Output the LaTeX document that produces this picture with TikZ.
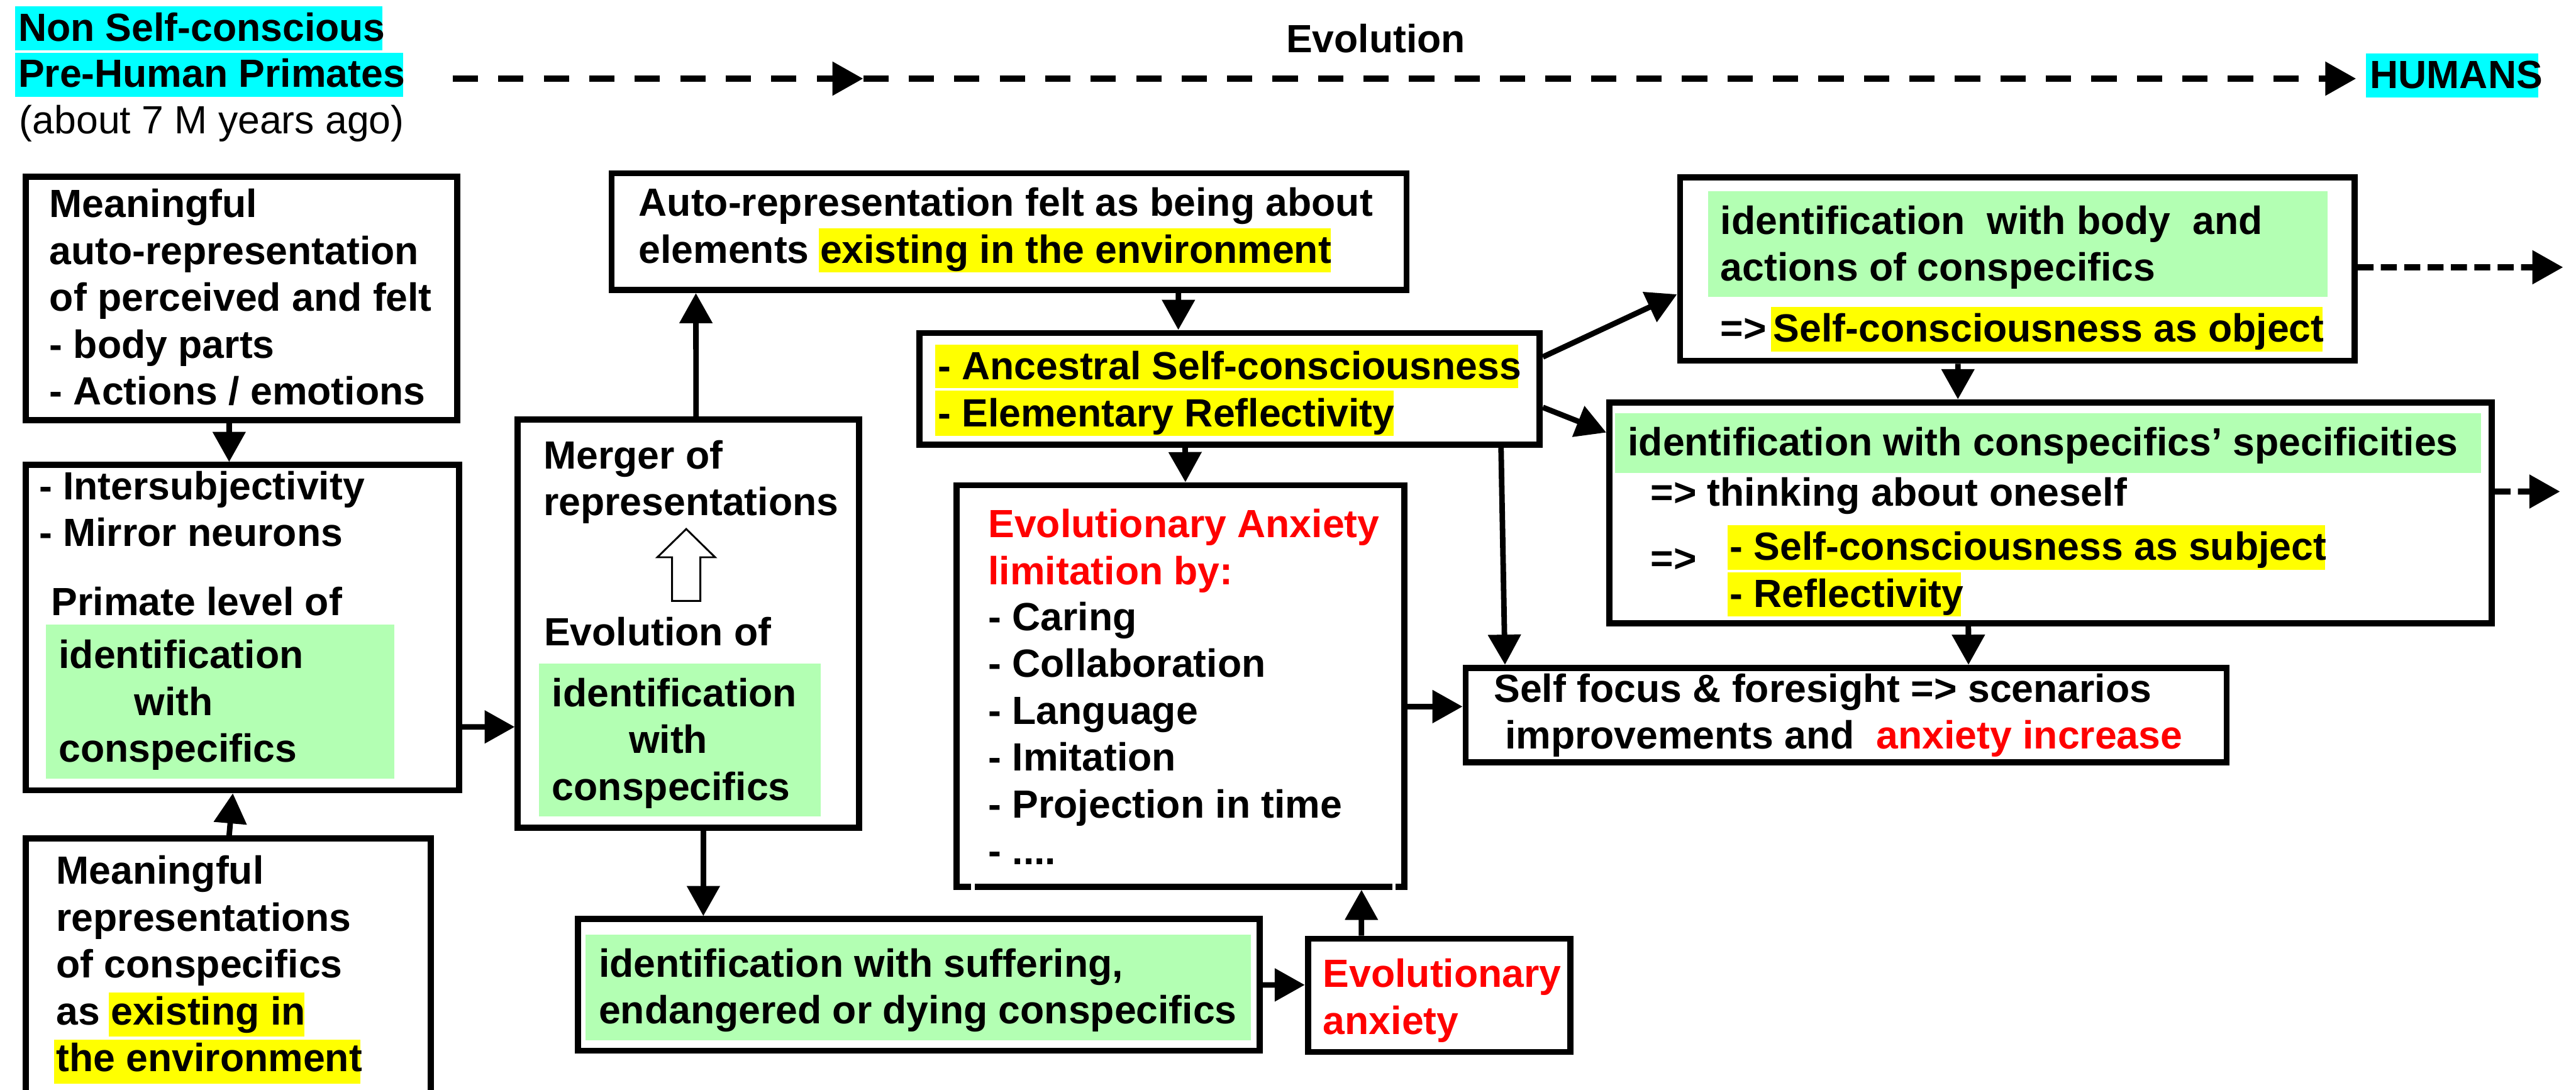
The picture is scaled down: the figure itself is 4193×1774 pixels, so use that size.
\documentclass[tikz,border=0pt]{standalone}
\usepackage{fontspec}
\setmainfont{Liberation Sans}
\usetikzlibrary{arrows.meta}
\definecolor{hlgreen}{RGB}{179,255,179}
\definecolor{hlyellow}{RGB}{255,255,0}
\definecolor{hlcyan}{RGB}{0,255,255}
\definecolor{hlred}{RGB}{255,0,0}
\newcommand{\mls}[1]{\begin{tabular}[t]{@{}l@{}}#1\end{tabular}}
\begin{document}
\begin{tikzpicture}[x=0.01cm,y=-0.01cm,
  box/.style={draw, line width=0.1cm, inner sep=0pt, rectangle},
  txt/.style={anchor=base west, inner sep=0pt, font=\fontsize{18.2pt}{21.7pt}\selectfont\bfseries},
  arr/.style={line width=0.09cm, -{Triangle[length=0.49cm,width=0.52cm]}},
  darr/.style={line width=0.1cm, dash pattern=on 0.26cm off 0.12cm, -{Triangle[length=0.5cm,width=0.53cm]}},
  tdarr/.style={line width=0.1cm, dash pattern=on 0.41cm off 0.33cm, -{Triangle[length=0.5cm,width=0.53cm]}},
  hlg/.style={fill=hlgreen},
  hly/.style={fill=hlyellow},
  hlc/.style={fill=hlcyan}
]
\useasboundingbox (0,0) rectangle (4193,1774);
\fill[white] (0,0) rectangle (4193,1774);

% ---- highlight fills ----
\fill[hlc] (25,10) rectangle (622,82);
\fill[hlc] (25,86) rectangle (656,158);
\fill[hlc] (3851,87) rectangle (4132,159);
\fill[hlg] (75,1017) rectangle (642,1267);
\fill[hlg] (877,1080) rectangle (1336,1329);
\fill[hlg] (953,1521) rectangle (2036,1693);
\fill[hlg] (2780,311) rectangle (3789,483);
\fill[hlg] (2629,673) rectangle (4038,770);
\fill[hly] (177,1615) rectangle (495,1687);
\fill[hly] (88,1692) rectangle (587,1764);
\fill[hly] (1333,372) rectangle (2166,443);
\fill[hly] (1522,561) rectangle (2471,632);
\fill[hly] (1522,636) rectangle (2268,709);
\fill[hly] (2883,500) rectangle (3780,572);
\fill[hly] (2812,855) rectangle (3784,927);
\fill[hly] (2812,932) rectangle (3192,1003);

% ---- boxes ----
\node[box, minimum width=7.02cm, minimum height=3.96cm] (A) at (393,486) {};
\node[box, minimum width=7.05cm, minimum height=5.29cm] (B) at (394.5,1021.5) {};
\node[box, minimum width=6.59cm, minimum height=4.60cm] (C) at (371.5,1595) {};
\node[box, minimum width=5.55cm, minimum height=6.64cm] (F) at (1120.5,1015) {};
\node[box, minimum width=12.93cm, minimum height=1.90cm] (D) at (1642.5,377) {};
\node[box, minimum width=10.09cm, minimum height=1.82cm] (E) at (2001.5,633) {};
\node[box, minimum width=7.29cm, minimum height=6.53cm] (G) at (1921.5,1116.5) {};
\node[box, minimum width=11.09cm, minimum height=2.14cm] (S) at (1495.5,1603) {};
\node[box, minimum width=4.27cm, minimum height=1.84cm] (X) at (2342.5,1620) {};
\node[box, minimum width=10.97cm, minimum height=2.98cm] (I) at (3283.5,438) {};
\node[box, minimum width=14.35cm, minimum height=3.59cm] (J) at (3337.5,834.5) {};
\node[box, minimum width=12.38cm, minimum height=1.54cm] (H) at (3005,1164) {};

% small gaps in the bottom border of G
\fill[white] (1581,1435) rectangle (1587,1450);
\fill[white] (2266,1435) rectangle (2272,1450);

% white block arrow inside F
\draw[line width=0.03cm, fill=white] (1117,861) -- (1164,907) -- (1140,907) -- (1140,978) -- (1094,978) -- (1094,907) -- (1070,907) -- cycle;

% ---- texts ----
\node[txt] (tNon) at (29,67) {Non Self-conscious};
\node[txt] (tPre) at (29,142) {Pre-Human Primates};
\node[txt, font=\fontsize{18.2pt}{21.7pt}\selectfont] (tAgo) at (31,218) {(about 7 M years ago)};
\node[txt] (tEvo) at (2093,86) {Evolution};
\node[txt] (tHum) at (3857,144) {HUMANS};

\node[txt] (tA) at (80,354) {\mls{Meaningful\\auto-representation\\of perceived and felt\\- body parts\\- Actions / emotions}};
\node[txt] (tB1) at (63,813) {\mls{- Intersubjectivity\\- Mirror neurons}};
\node[txt] (tB2) at (83,1002) {Primate level of};
\node[txt] (tB3) at (95,1088) {\mls{identification\\\hspace*{1.23cm}with\\conspecifics}};
\node[txt] (tC) at (91,1439) {\mls{Meaningful\\representations\\of conspecifics\\as existing in\\the environment}};

\node[txt] (tF1) at (884,763) {\mls{Merger of\\representations}};
\node[txt] (tF2) at (885,1051) {Evolution of};
\node[txt] (tF3) at (898,1150) {\mls{identification\\\hspace*{1.25cm}with\\conspecifics}};

\node[txt] (tD) at (1039,352) {\mls{Auto-representation felt as being about\\elements existing in the environment}};
\node[txt] (tE) at (1526,618) {\mls{- Ancestral Self-consciousness\\- Elementary Reflectivity}};
\node[txt, text=hlred] (tG1) at (1608,875) {\mls{Evolutionary Anxiety\\limitation by:}};
\node[txt] (tG2) at (1608,1026) {\mls{- Caring\\- Collaboration\\- Language\\- Imitation\\- Projection in time\\- ....}};
\node[txt] (tS) at (974,1590) {\mls{identification with suffering,\\endangered or dying conspecifics}};
\node[txt, text=hlred] (tX) at (2153,1607) {\mls{Evolutionary\\anxiety}};

\node[txt] (tI1) at (2800,381) {\mls{identification\ \ with body\ \ and\\actions of conspecifics}};
\node[txt] (tI2) at (2800,556) {=>};
\node[txt] (tI3) at (2886,556) {Self-consciousness as object};
\node[txt] (tJ1) at (2649,742) {identification with conspecifics’ specificities};
\node[txt] (tJ2) at (2686,824) {=> thinking about oneself};
\node[txt] (tJ3) at (2686,931) {=>};
\node[txt] (tJ4) at (2815,912) {\mls{- Self-consciousness as subject\\- Reflectivity}};
\node[txt] (tH) at (2431,1143) {Self focus \& foresight => scenarios};
\node[txt] (tH2) at (2449,1219) {improvements and\ \ \textcolor{hlred}{anxiety increase}};

% ---- connectors ----
\coordinate (ev0) at (737,128);
\coordinate (ev1) at (1405,128);
\coordinate (ev2) at (3835,128);
\draw[tdarr] (ev0) -- (ev1);
\draw[tdarr] (ev1) -- (ev2);

\draw[arr] ([xshift=-0.2cm]A.south) -- ([xshift=-0.215cm]B.north);
\draw[arr] ([xshift=0.015cm]C.north) -- ([xshift=-0.155cm]B.south);
\draw[arr] ([yshift=-1.615cm]B.east) -- ([yshift=-1.68cm]F.west);
\draw[arr] ([xshift=0.125cm]F.north) -- ([xshift=-5.095cm]D.south);
\draw[arr] ([xshift=2.755cm]D.south) -- ([xshift=-0.835cm]E.north);
\draw[arr] ([xshift=-0.725cm]E.south) -- ([xshift=0.08cm]G.north);
\draw[arr] ([xshift=4.415cm]E.south) -- ([xshift=-5.55cm]H.north);
\draw[arr] ([yshift=-0.335cm]G.east) -- ([yshift=0.14cm]H.west);
\draw[arr] ([yshift=0.52cm]E.east) -- ([yshift=-0.41cm]I.west);
\draw[arr] ([yshift=-0.30cm]E.east) -- ([yshift=1.305cm]J.west);
\draw[arr] ([xshift=-0.965cm]I.south) -- ([xshift=-1.505cm]J.north);
\draw[arr] ([xshift=-1.335cm]J.south) -- ([xshift=1.99cm]H.north);
\draw[arr] ([xshift=0.245cm]F.south) -- ([xshift=-3.505cm]S.north);
\draw[arr] (S.east) -- ([yshift=0.17cm]X.west);
\draw[arr] ([xshift=-1.265cm]X.north) -- ([xshift=2.945cm]G.south);

\coordinate (outI) at (4172,435);
\coordinate (outJ) at (4167,800);
\draw[darr] ([yshift=0.03cm]I.east) -- (outI);
\draw[darr] ([yshift=0.345cm]J.east) -- (outJ);
\end{tikzpicture}
\end{document}
